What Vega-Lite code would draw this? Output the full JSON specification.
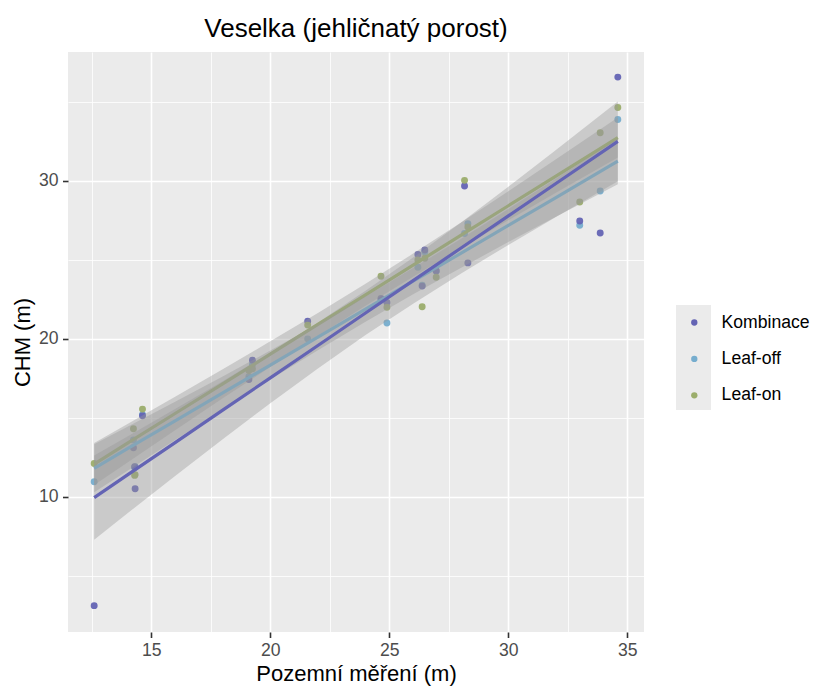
{
  "$schema": "https://vega.github.io/schema/vega-lite/v6.json",
  "width": 576,
  "height": 580,
  "autosize": {"type": "none"},
  "padding": {"left": 68, "top": 52, "right": 169, "bottom": 56},
  "background": "white",
  "view": {"fill": "#EBEBEB", "stroke": null},
  "title": {"text": "Veselka (jehličnatý porost)", "fontSize": 26, "font": "Liberation Sans", "fontWeight": "normal", "color": "#000000", "anchor": "middle", "frame": "group", "offset": 10},
  "config": {"font": "Liberation Sans"},
  "datasets": {
    "pts": [
      {"x": 12.6, "y": 10.95, "series": "Leaf-off"},
      {"x": 14.25, "y": 13.6, "series": "Leaf-off"},
      {"x": 14.3, "y": 11.85, "series": "Leaf-off"},
      {"x": 14.32, "y": 11.9, "series": "Leaf-off"},
      {"x": 14.63, "y": 15.2, "series": "Leaf-off"},
      {"x": 19.1, "y": 17.6, "series": "Leaf-off"},
      {"x": 19.25, "y": 18.38, "series": "Leaf-off"},
      {"x": 21.57, "y": 20.0, "series": "Leaf-off"},
      {"x": 24.65, "y": 22.5, "series": "Leaf-off"},
      {"x": 24.9, "y": 21.0, "series": "Leaf-off"},
      {"x": 26.2, "y": 24.54, "series": "Leaf-off"},
      {"x": 26.38, "y": 23.4, "series": "Leaf-off"},
      {"x": 26.49, "y": 25.5, "series": "Leaf-off"},
      {"x": 26.97, "y": 24.3, "series": "Leaf-off"},
      {"x": 28.16, "y": 26.67, "series": "Leaf-off"},
      {"x": 28.3, "y": 27.3, "series": "Leaf-off"},
      {"x": 33.0, "y": 27.2, "series": "Leaf-off"},
      {"x": 33.86, "y": 29.37, "series": "Leaf-off"},
      {"x": 34.6, "y": 33.89, "series": "Leaf-off"},
      {"x": 12.6, "y": 3.1, "series": "Kombinace"},
      {"x": 14.25, "y": 13.1, "series": "Kombinace"},
      {"x": 14.3, "y": 11.9, "series": "Kombinace"},
      {"x": 14.32, "y": 10.5, "series": "Kombinace"},
      {"x": 14.63, "y": 15.13, "series": "Kombinace"},
      {"x": 19.1, "y": 17.43, "series": "Kombinace"},
      {"x": 19.25, "y": 18.65, "series": "Kombinace"},
      {"x": 21.57, "y": 21.12, "series": "Kombinace"},
      {"x": 24.65, "y": 22.56, "series": "Kombinace"},
      {"x": 24.9, "y": 22.3, "series": "Kombinace"},
      {"x": 26.2, "y": 25.34, "series": "Kombinace"},
      {"x": 26.38, "y": 23.34, "series": "Kombinace"},
      {"x": 26.49, "y": 25.63, "series": "Kombinace"},
      {"x": 26.97, "y": 24.3, "series": "Kombinace"},
      {"x": 28.16, "y": 29.68, "series": "Kombinace"},
      {"x": 28.3, "y": 24.81, "series": "Kombinace"},
      {"x": 33.0, "y": 27.47, "series": "Kombinace"},
      {"x": 33.86, "y": 26.71, "series": "Kombinace"},
      {"x": 34.6, "y": 36.58, "series": "Kombinace"},
      {"x": 12.6, "y": 12.1, "series": "Leaf-on"},
      {"x": 14.25, "y": 14.3, "series": "Leaf-on"},
      {"x": 14.3, "y": 11.35, "series": "Leaf-on"},
      {"x": 14.32, "y": 11.4, "series": "Leaf-on"},
      {"x": 14.63, "y": 15.55, "series": "Leaf-on"},
      {"x": 19.1, "y": 18.0, "series": "Leaf-on"},
      {"x": 19.25, "y": 18.1, "series": "Leaf-on"},
      {"x": 21.57, "y": 20.87, "series": "Leaf-on"},
      {"x": 24.65, "y": 23.97, "series": "Leaf-on"},
      {"x": 24.9, "y": 22.0, "series": "Leaf-on"},
      {"x": 26.2, "y": 25.0, "series": "Leaf-on"},
      {"x": 26.38, "y": 22.03, "series": "Leaf-on"},
      {"x": 26.49, "y": 25.1, "series": "Leaf-on"},
      {"x": 26.97, "y": 23.9, "series": "Leaf-on"},
      {"x": 28.16, "y": 30.04, "series": "Leaf-on"},
      {"x": 28.3, "y": 27.09, "series": "Leaf-on"},
      {"x": 33.0, "y": 28.67, "series": "Leaf-on"},
      {"x": 33.86, "y": 33.06, "series": "Leaf-on"},
      {"x": 34.6, "y": 34.65, "series": "Leaf-on"}
    ],
    "fits": [
      {"x": 12.6, "fit": 9.94, "lo": 7.27, "hi": 12.61, "series": "Kombinace"},
      {"x": 14, "fit": 11.38, "lo": 8.95, "hi": 13.81, "series": "Kombinace"},
      {"x": 16, "fit": 13.43, "lo": 11.31, "hi": 15.55, "series": "Kombinace"},
      {"x": 18, "fit": 15.48, "lo": 13.64, "hi": 17.32, "series": "Kombinace"},
      {"x": 20, "fit": 17.53, "lo": 15.92, "hi": 19.14, "series": "Kombinace"},
      {"x": 22, "fit": 19.58, "lo": 18.12, "hi": 21.04, "series": "Kombinace"},
      {"x": 24, "fit": 21.64, "lo": 20.24, "hi": 23.04, "series": "Kombinace"},
      {"x": 26, "fit": 23.69, "lo": 22.23, "hi": 25.15, "series": "Kombinace"},
      {"x": 28, "fit": 25.74, "lo": 24.13, "hi": 27.35, "series": "Kombinace"},
      {"x": 30, "fit": 27.79, "lo": 25.95, "hi": 29.63, "series": "Kombinace"},
      {"x": 32, "fit": 29.84, "lo": 27.72, "hi": 31.96, "series": "Kombinace"},
      {"x": 34.6, "fit": 32.51, "lo": 29.98, "hi": 35.04, "series": "Kombinace"},
      {"x": 12.6, "fit": 11.8, "lo": 10.28, "hi": 13.32, "series": "Leaf-off"},
      {"x": 14, "fit": 13.04, "lo": 11.65, "hi": 14.43, "series": "Leaf-off"},
      {"x": 16, "fit": 14.81, "lo": 13.6, "hi": 16.02, "series": "Leaf-off"},
      {"x": 18, "fit": 16.57, "lo": 15.52, "hi": 17.62, "series": "Leaf-off"},
      {"x": 20, "fit": 18.34, "lo": 17.42, "hi": 19.26, "series": "Leaf-off"},
      {"x": 22, "fit": 20.11, "lo": 19.28, "hi": 20.94, "series": "Leaf-off"},
      {"x": 24, "fit": 21.88, "lo": 21.08, "hi": 22.68, "series": "Leaf-off"},
      {"x": 26, "fit": 23.65, "lo": 22.82, "hi": 24.48, "series": "Leaf-off"},
      {"x": 28, "fit": 25.41, "lo": 24.49, "hi": 26.33, "series": "Leaf-off"},
      {"x": 30, "fit": 27.18, "lo": 26.13, "hi": 28.23, "series": "Leaf-off"},
      {"x": 32, "fit": 28.95, "lo": 27.74, "hi": 30.16, "series": "Leaf-off"},
      {"x": 34.6, "fit": 31.25, "lo": 29.8, "hi": 32.7, "series": "Leaf-off"},
      {"x": 12.6, "fit": 12.07, "lo": 10.74, "hi": 13.4, "series": "Leaf-on"},
      {"x": 14, "fit": 13.39, "lo": 12.17, "hi": 14.61, "series": "Leaf-on"},
      {"x": 16, "fit": 15.27, "lo": 14.21, "hi": 16.33, "series": "Leaf-on"},
      {"x": 18, "fit": 17.15, "lo": 16.23, "hi": 18.07, "series": "Leaf-on"},
      {"x": 20, "fit": 19.03, "lo": 18.22, "hi": 19.84, "series": "Leaf-on"},
      {"x": 22, "fit": 20.91, "lo": 20.18, "hi": 21.64, "series": "Leaf-on"},
      {"x": 24, "fit": 22.79, "lo": 22.09, "hi": 23.49, "series": "Leaf-on"},
      {"x": 26, "fit": 24.67, "lo": 23.94, "hi": 25.4, "series": "Leaf-on"},
      {"x": 28, "fit": 26.55, "lo": 25.74, "hi": 27.36, "series": "Leaf-on"},
      {"x": 30, "fit": 28.43, "lo": 27.51, "hi": 29.35, "series": "Leaf-on"},
      {"x": 32, "fit": 30.31, "lo": 29.25, "hi": 31.37, "series": "Leaf-on"},
      {"x": 34.6, "fit": 32.75, "lo": 31.48, "hi": 34.02, "series": "Leaf-on"}
    ]
  },
  "layer": [
    {
      "data": {"name": "fits"},
      "mark": {"type": "point", "filled": true, "opacity": 0, "color": "#EBEBEB"},
      "encoding": {
        "x": {"field": "x", "type": "quantitative", "scale": {"domain": [11.5, 35.7], "nice": false, "zero": false},
          "axis": {"orient": "bottom", "values": [12.5, 17.5, 22.5, 27.5, 32.5], "grid": true, "gridColor": "white", "gridWidth": 0.8, "labels": false, "ticks": false, "domain": false, "title": null}},
        "y": {"field": "fit", "type": "quantitative", "scale": {"domain": [1.43, 38.17], "nice": false, "zero": false},
          "axis": {"orient": "left", "values": [5, 15, 25, 35], "grid": true, "gridColor": "white", "gridWidth": 0.8, "labels": false, "ticks": false, "domain": false, "title": null}},
        "shape": {"field": "series", "type": "nominal", "scale": {"range": ["square", "square", "square"]},
          "legend": {"orient": "none", "legendX": 608, "legendY": 253, "title": null, "symbolType": "square", "symbolSize": 1225, "symbolStrokeWidth": 0, "symbolFillColor": "#EBEBEB", "symbolStrokeColor": "#EBEBEB", "symbolOpacity": 1, "labelOpacity": 0, "labelFontSize": 1, "labelOffset": 0, "rowPadding": 0, "padding": 0, "zindex": 0}}
      }
    },
    {
      "data": {"name": "pts"},
      "mark": {"type": "circle", "size": 48, "opacity": 0.95},
      "encoding": {
        "x": {"field": "x", "type": "quantitative", "scale": {"domain": [11.5, 35.7], "nice": false, "zero": false},
          "axis": {"orient": "bottom", "values": [15, 20, 25, 30, 35], "grid": true, "gridColor": "white", "gridWidth": 1.6, "domain": false, "tickColor": "#333333", "tickSize": 5.5, "tickWidth": 1.6, "labelColor": "#4D4D4D", "labelFontSize": 17.6, "labelPadding": 4.4, "title": "Pozemní měření (m)", "titleFontSize": 22, "titleFontWeight": "normal", "titleColor": "#000000", "titlePadding": 4}},
        "y": {"field": "y", "type": "quantitative", "scale": {"domain": [1.43, 38.17], "nice": false, "zero": false},
          "axis": {"orient": "left", "values": [10, 20, 30], "grid": true, "gridColor": "white", "gridWidth": 1.6, "domain": false, "tickColor": "#333333", "tickSize": 5.5, "tickWidth": 1.6, "labelColor": "#4D4D4D", "labelFontSize": 17.6, "labelPadding": 4.4, "title": "CHM (m)", "titleFontSize": 22, "titleFontWeight": "normal", "titleColor": "#000000", "titlePadding": 4}},
        "color": {"field": "series", "type": "nominal",
          "scale": {"domain": ["Kombinace", "Leaf-off", "Leaf-on"], "range": ["#6464B4", "#76ADCE", "#9BAD6B"]},
          "legend": {"orient": "none", "legendX": 617.5, "legendY": 261.7, "title": null, "symbolType": "circle", "symbolSize": 40, "symbolStrokeWidth": 0, "symbolOpacity": 1, "labelFontSize": 17.6, "labelColor": "#000000", "labelOffset": 18.5, "rowPadding": 17.4, "padding": 0, "zindex": 2,
            "encode": {"symbols": {"update": {"fill": {"scale": "color", "field": "value"}, "stroke": {"value": "transparent"}, "opacity": {"value": 1}}}}}}
      }
    },
    {
      "data": {"name": "fits"},
      "transform": [{"filter": "datum.series === 'Leaf-on'"}],
      "mark": {"type": "area", "color": "#999999", "opacity": 0.4},
      "encoding": {
        "x": {"field": "x", "type": "quantitative", "axis": null},
        "y": {"field": "lo", "type": "quantitative", "axis": null},
        "y2": {"field": "hi"}
      }
    },
    {
      "data": {"name": "fits"},
      "transform": [{"filter": "datum.series === 'Leaf-on'"}],
      "mark": {"type": "line", "strokeWidth": 3.2},
      "encoding": {
        "x": {"field": "x", "type": "quantitative", "axis": null},
        "y": {"field": "fit", "type": "quantitative", "axis": null},
        "color": {"field": "series", "type": "nominal", "legend": null}
      }
    },
    {
      "data": {"name": "fits"},
      "transform": [{"filter": "datum.series === 'Leaf-off'"}],
      "mark": {"type": "area", "color": "#999999", "opacity": 0.4},
      "encoding": {
        "x": {"field": "x", "type": "quantitative", "axis": null},
        "y": {"field": "lo", "type": "quantitative", "axis": null},
        "y2": {"field": "hi"}
      }
    },
    {
      "data": {"name": "fits"},
      "transform": [{"filter": "datum.series === 'Leaf-off'"}],
      "mark": {"type": "line", "strokeWidth": 3.2},
      "encoding": {
        "x": {"field": "x", "type": "quantitative", "axis": null},
        "y": {"field": "fit", "type": "quantitative", "axis": null},
        "color": {"field": "series", "type": "nominal", "legend": null}
      }
    },
    {
      "data": {"name": "fits"},
      "transform": [{"filter": "datum.series === 'Kombinace'"}],
      "mark": {"type": "area", "color": "#999999", "opacity": 0.4},
      "encoding": {
        "x": {"field": "x", "type": "quantitative", "axis": null},
        "y": {"field": "lo", "type": "quantitative", "axis": null},
        "y2": {"field": "hi"}
      }
    },
    {
      "data": {"name": "fits"},
      "transform": [{"filter": "datum.series === 'Kombinace'"}],
      "mark": {"type": "line", "strokeWidth": 3.2},
      "encoding": {
        "x": {"field": "x", "type": "quantitative", "axis": null},
        "y": {"field": "fit", "type": "quantitative", "axis": null},
        "color": {"field": "series", "type": "nominal", "legend": null}
      }
    }
  ],
  "resolve": {"axis": {"x": "independent", "y": "independent"}}
}
